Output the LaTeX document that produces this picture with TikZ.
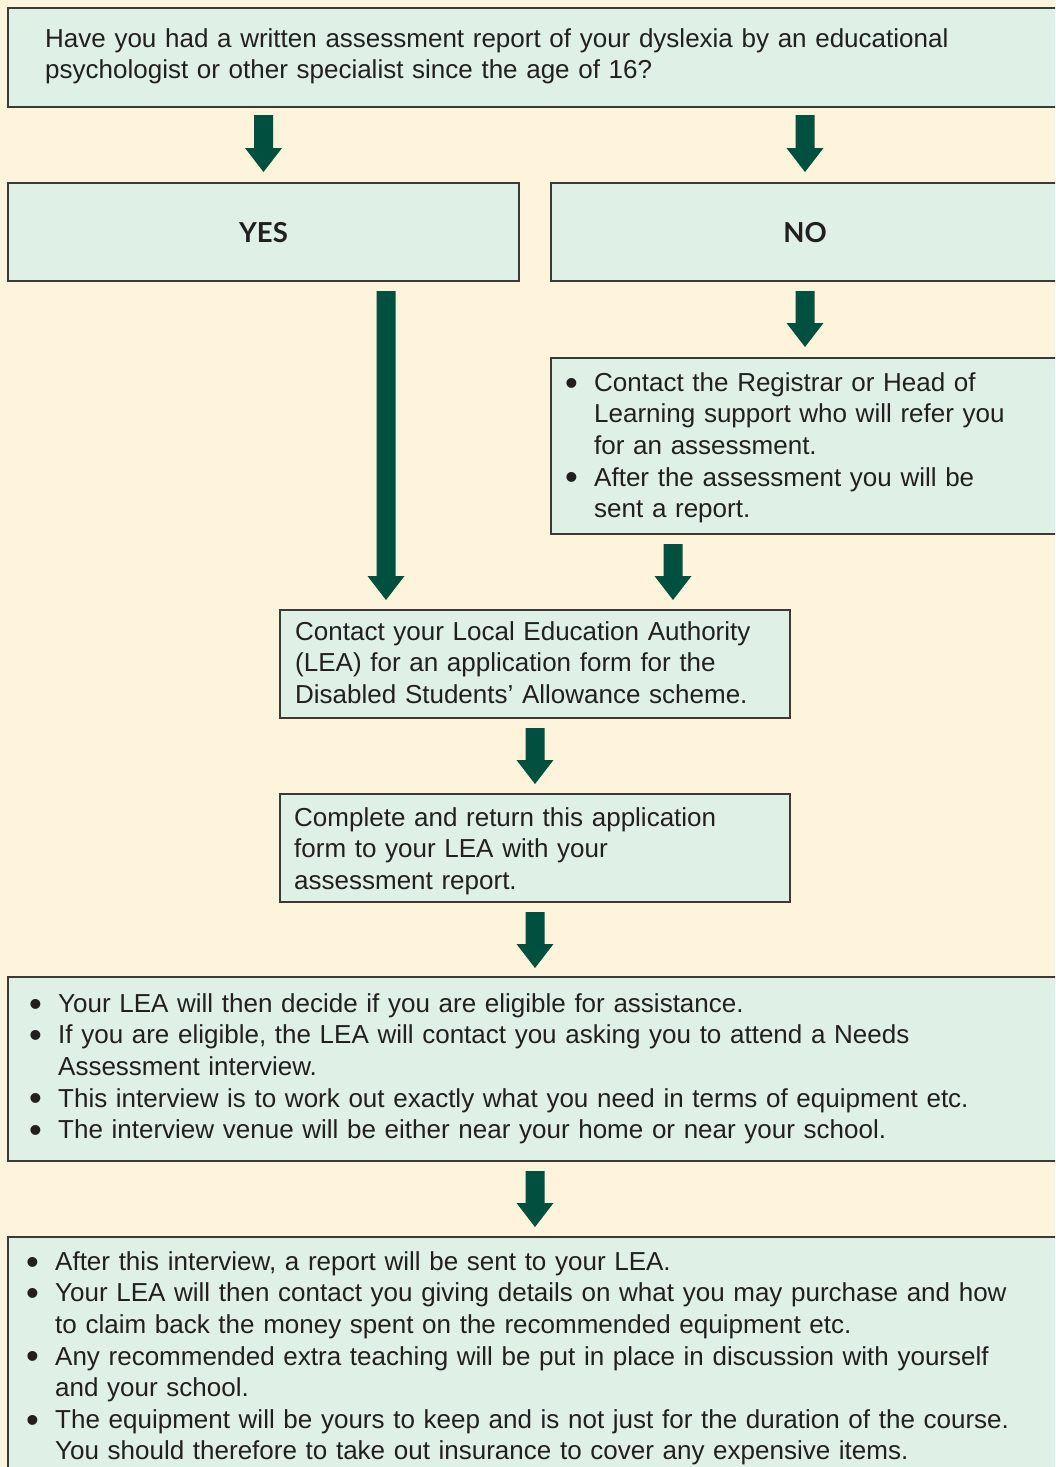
\documentclass[tikz,border=0pt]{standalone}
\usepackage{fontspec}
\usepackage{graphicx}
\setmainfont{Liberation Sans}
\newfontfamily\labelfont{Lato}
\usetikzlibrary{calc}
\definecolor{bg}{HTML}{FEF3DB}
\definecolor{boxfill}{HTML}{DFF0E6}
\definecolor{boxline}{HTML}{3A3A36}
\definecolor{arrowgreen}{HTML}{00503F}
\definecolor{textcol}{HTML}{231F20}
\newcommand\bigbul{\raisebox{-3.8pt}{\scalebox{1.4}{\textbullet}}}
\newcommand\bitem[2][29pt]{\hangindent=#1\hangafter=1\noindent\strut\hbox to #1{\bigbul\hfil}#2\par}
\newcommand\barrow[2]{\fill[arrowgreen] let \p1=(#1), \p2=(#2) in
  (\x1-9.5pt,\y1) -- (\x1+9.5pt,\y1) -- (\x1+9.5pt,\y2+24pt) -- (\x1+18.5pt,\y2+24pt)
  -- (\x1,\y2) -- (\x1-18.5pt,\y2+24pt) -- (\x1-9.5pt,\y2+24pt) -- cycle;}
\begin{document}
\begin{tikzpicture}[x=1pt,y=-1pt,
  box/.style={draw=boxline, fill=boxfill, line width=1.3pt, rectangle, inner sep=0pt, outer sep=0pt, anchor=north west},
  txt/.style={anchor=north west, inner sep=0pt, text width=#1, align=left, text=textcol,
    font=\fontsize{26}{31.6}\selectfont},
  lbl/.style={inner sep=0pt, text=textcol, font=\labelfont\bfseries\fontsize{27.5}{30}\selectfont}]
\useasboundingbox (0,0) rectangle (1055,1467);
\fill[bg] (0,0) rectangle (1055,1467);
\clip (0,0) rectangle (1055,1467);

% boxes
\node[box, minimum width=1060pt, minimum height=99pt] (q) at (8,8) {};
\node[box, minimum width=511pt, minimum height=98pt] (yes) at (8,183) {};
\node[box, minimum width=508pt, minimum height=98pt] (no) at (551,183) {};
\node[box, minimum width=508pt, minimum height=176pt] (reg) at (551,358) {};
\node[box, minimum width=510pt, minimum height=108pt] (lea) at (280,610) {};
\node[box, minimum width=510pt, minimum height=108pt] (form) at (280,794) {};
\node[box, minimum width=1060pt, minimum height=184pt] (elig) at (8,977) {};
\node[box, minimum width=1060pt, minimum height=250pt] (after) at (8,1237) {};

% texts
\node[txt=1000pt] (qt) at (45,24.9) {\strut Have you had a written assessment report of your dyslexia by an educational\\ psychologist or other specialist since the age of 16?};
\node[lbl] (yest) at ($(yes.center)+(0,1)$) {YES};
\node[lbl] (not) at ($(no.center)+(0,1)$) {NO};
\node[txt=480pt] (regt) at (565,368.9) {%
\bitem{Contact the Registrar or Head of\newline Learning support who will refer you\newline for an assessment.}%
\bitem{After the assessment you will be\newline sent a report.}};
\node[txt=490pt] (leat) at (295,617.9) {\strut Contact your Local Education Authority\\ (LEA) for an application form for the\\ Disabled Students’ Allowance scheme.};
\node[txt=490pt] (formt) at (294,803.9) {\strut Complete and return this application\\ form to your LEA with your\\ assessment report.};
\node[txt=1020pt] (eligt) at (29,989.9) {%
\bitem{Your LEA will then decide if you are eligible for assistance.}%
\bitem{If you are eligible, the LEA will contact you asking you to attend a Needs\newline Assessment interview.}%
\bitem{This interview is to work out exactly what you need in terms of equipment etc.}%
\bitem{The interview venue will be either near your home or near your school.}};
\node[txt=1020pt] (aftert) at (26,1247.9) {%
\bitem{After this interview, a report will be sent to your LEA.}%
\bitem{Your LEA will then contact you giving details on what you may purchase and how\newline to claim back the money spent on the recommended equipment etc.}%
\bitem{Any recommended extra teaching will be put in place in discussion with yourself\newline and your school.}%
\bitem{The equipment will be yours to keep and is not just for the duration of the course.\newline You should therefore to take out insurance to cover any expensive items.}};

% arrow x positions
\coordinate (xa) at (263.5,0);
\coordinate (xb) at (805,0);
\coordinate (xc) at (386,0);
\coordinate (xd) at (673,0);
\coordinate (xe) at (535,0);

% connectors
\barrow{$(q.south -| xa)+(0,8)$}{$(yes.north -| xa)+(0,-11)$}
\barrow{$(q.south -| xb)+(0,8)$}{$(no.north -| xb)+(0,-11)$}
\barrow{$(yes.south -| xc)+(0,10)$}{$(lea.north -| xc)+(0,-10)$}
\barrow{$(no.south -| xb)+(0,10)$}{$(reg.north -| xb)+(0,-11)$}
\barrow{$(reg.south -| xd)+(0,10)$}{$(lea.north -| xd)+(0,-10)$}
\barrow{$(lea.south -| xe)+(0,10)$}{$(form.north -| xe)+(0,-10)$}
\barrow{$(form.south -| xe)+(0,10)$}{$(elig.north -| xe)+(0,-9)$}
\barrow{$(elig.south -| xe)+(0,10)$}{$(after.north -| xe)+(0,-10)$}
\end{tikzpicture}
\end{document}
